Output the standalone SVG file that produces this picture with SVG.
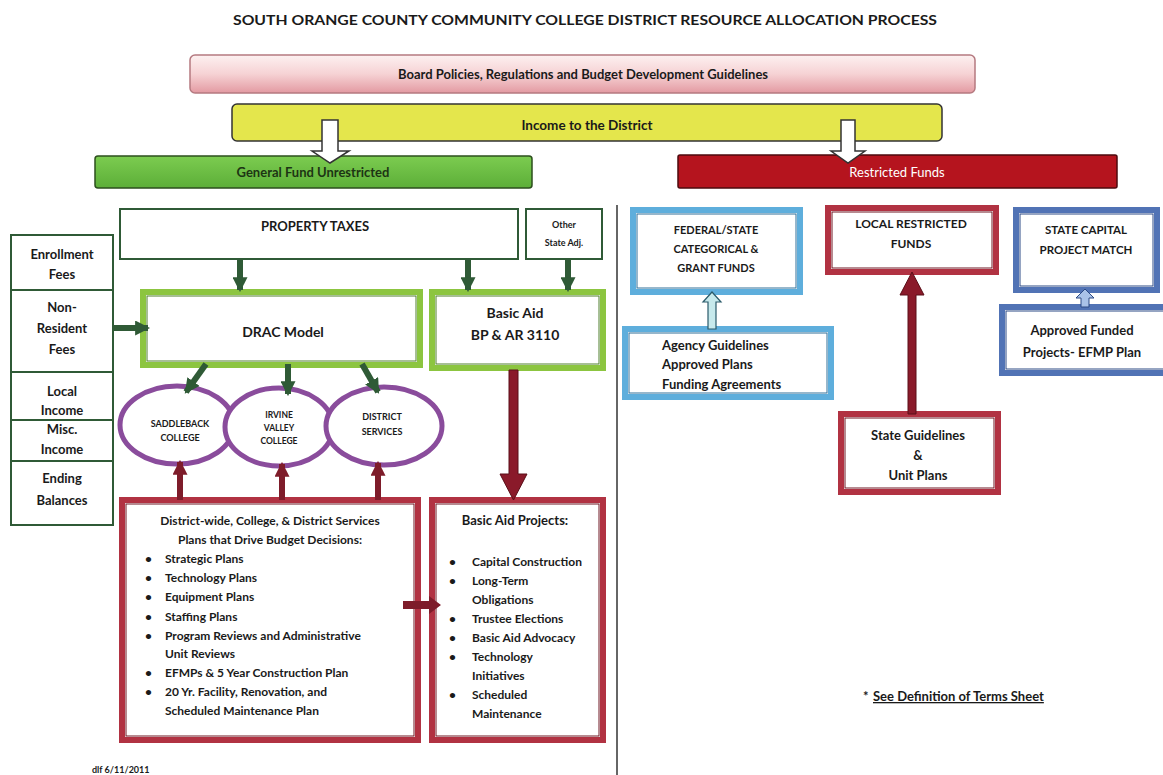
<svg xmlns="http://www.w3.org/2000/svg" width="1163" height="775" viewBox="0 0 1163 775">
<defs>
<linearGradient id="pink" x1="0" y1="0" x2="0" y2="1">
<stop offset="0" stop-color="#fdf1f1"/><stop offset="0.5" stop-color="#f6d2d4"/><stop offset="1" stop-color="#e39aa2"/>
</linearGradient>
<linearGradient id="green" x1="0" y1="0" x2="0" y2="1">
<stop offset="0" stop-color="#7ccc50"/><stop offset="1" stop-color="#5cae38"/>
</linearGradient>
<marker id="hg" markerUnits="userSpaceOnUse" markerWidth="15" markerHeight="15" viewBox="0 0 14 14" refX="12" refY="7" orient="auto"><path d="M0,0 L14,7 L0,14 z" fill="#2f5a36"/></marker>
<marker id="hr" markerUnits="userSpaceOnUse" markerWidth="15" markerHeight="15" viewBox="0 0 14 14" refX="12" refY="7" orient="auto"><path d="M0,0 L14,7 L0,14 z" fill="#7e1c2a"/></marker>
</defs>
<style>
text{font-family:Lato,"Liberation Sans",sans-serif;fill:#1a1a1a}
.b{font-weight:bold}
.c{text-anchor:middle}
.dg{fill:#fff;stroke:#2f5a36;stroke-width:2}
.lg{fill:#fff;stroke:#8cc540;stroke-width:6}
.lgi{fill:none;stroke:#4f7f2c;stroke-width:1}
.rd{fill:#fff;stroke:#b13242;stroke-width:6}
.rdi{fill:none;stroke:#6e1622;stroke-width:1}
.lb{fill:#fff;stroke:#5eaedc;stroke-width:6}
.lbi{fill:none;stroke:#2f6f98;stroke-width:1}
.sb{fill:#fff;stroke:#5173b5;stroke-width:6}
.sbi{fill:none;stroke:#2c4a85;stroke-width:1}
.pu{fill:#fff;stroke:#8a4c9c;stroke-width:5}
.ag{stroke:#2f5a36;stroke-width:6;fill:none;marker-end:url(#hg)}
.ar{stroke:#7e1c2a;stroke-width:6;fill:none;marker-end:url(#hr)}
.hol{fill:#fff;stroke:#333;stroke-width:1.5}
</style>

<text class="b c" x="585" y="25" font-size="14" textLength="704" lengthAdjust="spacingAndGlyphs">SOUTH ORANGE COUNTY COMMUNITY COLLEGE DISTRICT RESOURCE ALLOCATION PROCESS</text>

<g id="board">
<rect x="190" y="55" width="785" height="38" rx="5" fill="url(#pink)" stroke="#b57a80" stroke-width="1.5"/>
<text class="b c" x="583" y="79" font-size="13">Board Policies, Regulations and Budget Development Guidelines</text>
</g>
<g id="income">
<rect x="232" y="104" width="710" height="37" rx="5" fill="#e4e64c" stroke="#333" stroke-width="1.5"/>
<text class="b c" x="587" y="130" font-size="13.5">Income to the District</text>
</g>
<g id="general">
<rect x="95" y="156" width="437" height="32" rx="3" fill="url(#green)" stroke="#2c4f1e" stroke-width="1.5"/>
<text class="b c" x="313" y="177" font-size="13" style="fill:#1d3414">General Fund Unrestricted</text>
</g>
<g id="restricted">
<rect x="678" y="155" width="439" height="33" rx="2" fill="#b5141e" stroke="#4c0a0e" stroke-width="1.5"/>
<text class="c" x="897" y="177" font-size="13" style="fill:#fff">Restricted Funds</text>
</g>

<line x1="617" y1="205" x2="617" y2="775" stroke="#333" stroke-width="1.5"/>

<g id="leftcol">
<g id="enroll"><rect class="dg" x="11" y="235" width="102" height="55"/>
<text class="b c" x="62" y="259" font-size="13">Enrollment</text><text class="b c" x="62" y="279" font-size="13">Fees</text></g>
<g id="nonres"><rect class="dg" x="11" y="290" width="102" height="82"/>
<text class="b c" x="62" y="312" font-size="13">Non-</text><text class="b c" x="62" y="333" font-size="13">Resident</text><text class="b c" x="62" y="354" font-size="13">Fees</text></g>
<g id="local"><rect class="dg" x="11" y="372" width="102" height="48"/>
<text class="b c" x="62" y="396" font-size="13">Local</text><text class="b c" x="62" y="415" font-size="13">Income</text></g>
<g id="misc"><rect class="dg" x="11" y="420" width="102" height="41"/>
<text class="b c" x="62" y="434" font-size="13">Misc.</text><text class="b c" x="62" y="454" font-size="13">Income</text></g>
<g id="ending"><rect class="dg" x="11" y="461" width="102" height="64"/>
<text class="b c" x="62" y="483" font-size="13">Ending</text><text class="b c" x="62" y="505" font-size="13">Balances</text></g>
</g>

<g id="proptax"><rect class="dg" x="120" y="209" width="398" height="50"/>
<text class="b c" x="315" y="231" font-size="13">PROPERTY TAXES</text></g>
<g id="otherstate"><rect class="dg" x="526" y="209" width="76" height="50"/>
<text class="b c" x="564" y="228" font-size="9">Other</text><text class="b c" x="564" y="246" font-size="9">State Adj.</text></g>

<g id="drac"><rect class="lg" x="143" y="292" width="277" height="73"/><rect class="lgi" x="147" y="296" width="269" height="65"/>
<text class="b c" x="283" y="337" font-size="14">DRAC Model</text></g>
<g id="basicaid"><rect class="lg" x="432" y="292" width="171" height="76"/><rect class="lgi" x="436" y="296" width="163" height="68"/>
<text class="b c" x="515" y="318" font-size="14">Basic Aid</text><text class="b c" x="515" y="340" font-size="14">BP &amp; AR 3110</text></g>

<g id="saddleback"><ellipse class="pu" cx="177" cy="425" rx="57" ry="39"/>
<text class="b c" x="180" y="427" font-size="9">SADDLEBACK</text><text class="b c" x="180" y="441" font-size="9">COLLEGE</text></g>
<g id="irvine"><ellipse class="pu" cx="279" cy="427" rx="54" ry="39"/>
<text class="b c" x="279" y="418" font-size="8.5">IRVINE</text><text class="b c" x="279" y="431" font-size="8.5">VALLEY</text><text class="b c" x="279" y="444" font-size="8.5">COLLEGE</text></g>
<g id="district"><ellipse class="pu" cx="384" cy="426" rx="58" ry="39"/>
<text class="b c" x="382" y="420" font-size="9">DISTRICT</text><text class="b c" x="382" y="435" font-size="9">SERVICES</text></g>

<g id="plans"><rect class="rd" x="122" y="500" width="296" height="240"/><rect class="rdi" x="126" y="504" width="288" height="232"/>
<text class="b c" x="270" y="525" font-size="12">District-wide, College, &amp; District Services</text>
<text class="b c" x="270" y="544" font-size="12">Plans that Drive Budget Decisions:</text>
<g font-size="12" class="b">
<text x="145" y="563">•</text><text x="165" y="563">Strategic Plans</text>
<text x="145" y="582">•</text><text x="165" y="582">Technology Plans</text>
<text x="145" y="601">•</text><text x="165" y="601">Equipment Plans</text>
<text x="145" y="621">•</text><text x="165" y="621">Staffing Plans</text>
<text x="145" y="640">•</text><text x="165" y="640">Program Reviews  and Administrative</text>
<text x="165" y="658">Unit Reviews</text>
<text x="145" y="677">•</text><text x="165" y="677">EFMPs &amp; 5 Year Construction Plan</text>
<text x="145" y="696">•</text><text x="165" y="696">20 Yr. Facility, Renovation, and</text>
<text x="165" y="715">Scheduled Maintenance  Plan</text>
</g></g>

<g id="bapro"><rect class="rd" x="432" y="500" width="171" height="240"/><rect class="rdi" x="436" y="504" width="163" height="232"/>
<text class="b c" x="515" y="525" font-size="13">Basic Aid Projects:</text>
<g font-size="12" class="b">
<text x="449" y="566">•</text><text x="472" y="566">Capital Construction</text>
<text x="449" y="585">•</text><text x="472" y="585">Long-Term</text>
<text x="472" y="604">Obligations</text>
<text x="449" y="623">•</text><text x="472" y="623">Trustee Elections</text>
<text x="449" y="642">•</text><text x="472" y="642">Basic Aid Advocacy</text>
<text x="449" y="661">•</text><text x="472" y="661">Technology</text>
<text x="472" y="680">Initiatives</text>
<text x="449" y="699">•</text><text x="472" y="699">Scheduled</text>
<text x="472" y="718">Maintenance</text>
</g></g>

<g id="federal"><rect class="lb" x="633" y="210" width="167" height="82"/><rect class="lbi" x="637" y="214" width="159" height="74"/>
<text class="b c" x="716" y="234" font-size="11">FEDERAL/STATE</text><text class="b c" x="716" y="253" font-size="11">CATEGORICAL &amp;</text><text class="b c" x="716" y="272" font-size="11">GRANT FUNDS</text></g>
<g id="agency"><rect class="lb" x="625" y="329" width="206" height="68"/><rect class="lbi" x="629" y="333" width="198" height="60"/>
<text class="b" x="662" y="350" font-size="13">Agency Guidelines</text><text class="b" x="662" y="369" font-size="13">Approved Plans</text><text class="b" x="662" y="389" font-size="13">Funding Agreements</text></g>
<g id="localrf"><rect class="rd" x="828" y="208" width="168" height="64"/><rect class="rdi" x="832" y="212" width="160" height="56"/>
<text class="b c" x="911" y="228" font-size="12">LOCAL RESTRICTED</text><text class="b c" x="911" y="248" font-size="12">FUNDS</text></g>
<g id="stateguide"><rect class="rd" x="841" y="414" width="157" height="78"/><rect class="rdi" x="845" y="418" width="149" height="70"/>
<text class="b c" x="918" y="440" font-size="13">State Guidelines</text><text class="b c" x="918" y="460" font-size="13">&amp;</text><text class="b c" x="918" y="480" font-size="13">Unit Plans</text></g>
<g id="statecap"><rect class="sb" x="1016" y="210" width="141" height="80"/><rect class="sbi" x="1020" y="214" width="133" height="72"/>
<text class="b c" x="1086" y="234" font-size="11.5">STATE CAPITAL</text><text class="b c" x="1086" y="254" font-size="11.5">PROJECT MATCH</text></g>
<g id="approved"><rect class="sb" x="1002" y="307" width="166" height="66"/><rect class="sbi" x="1006" y="311" width="158" height="58"/>
<text class="b c" x="1082" y="335" font-size="13">Approved Funded</text><text class="b c" x="1082" y="357" font-size="13">Projects- EFMP Plan</text></g>

<g id="note">
<text class="b" x="863" y="701" font-size="13">*</text>
<text class="b" x="873" y="701" font-size="13" text-decoration="underline">See Definition of Terms Sheet</text>
</g>
<text class="b" x="92" y="773" font-size="9">dlf 6/11/2011</text>

<g id="connectors">
<polygon class="hol" points="322,120 338,120 338,151 349,151 330,163 312,151 322,151"/>
<polygon class="hol" points="841,120 855,120 855,151 865,151 848,163 831,151 841,151"/>
<line class="ag" x1="240" y1="259" x2="240" y2="290"/>
<line class="ag" x1="468" y1="259" x2="468" y2="290"/>
<line class="ag" x1="568" y1="259" x2="568" y2="290"/>
<line class="ag" x1="113" y1="328" x2="148" y2="328"/>
<line class="ag" x1="206" y1="364" x2="186" y2="392"/>
<line class="ag" x1="288" y1="364" x2="288" y2="394"/>
<line class="ag" x1="362" y1="364" x2="378" y2="392"/>
<line class="ar" x1="180" y1="500" x2="180" y2="462"/>
<line class="ar" x1="282" y1="500" x2="282" y2="464"/>
<line class="ar" x1="378" y1="500" x2="378" y2="463"/>
<polygon points="403,601 429,601 429,596 441,605 429,614 429,609 403,609" fill="#7e1c2a"/>
<polygon points="509,370 518,370 518,474 527,474 513.5,500 500,474 509,474" fill="#8a1a2a" stroke="#5a0f18" stroke-width="1"/>
<polygon points="908,414 916,414 916,295 924,295 912,272 900,295 908,295" fill="#8a1a2a" stroke="#5a0f18" stroke-width="1"/>
<polygon points="708,329 716,329 716,302 721,302 712,292 703,302 708,302" fill="#c6e9ec" stroke="#2a5a6a" stroke-width="1.2"/>
<polygon points="1081,307 1089,307 1089,298 1094,298 1085,289 1076,298 1081,298" fill="#a9c2e8" stroke="#2c4a85" stroke-width="1"/>
</g>
</svg>
